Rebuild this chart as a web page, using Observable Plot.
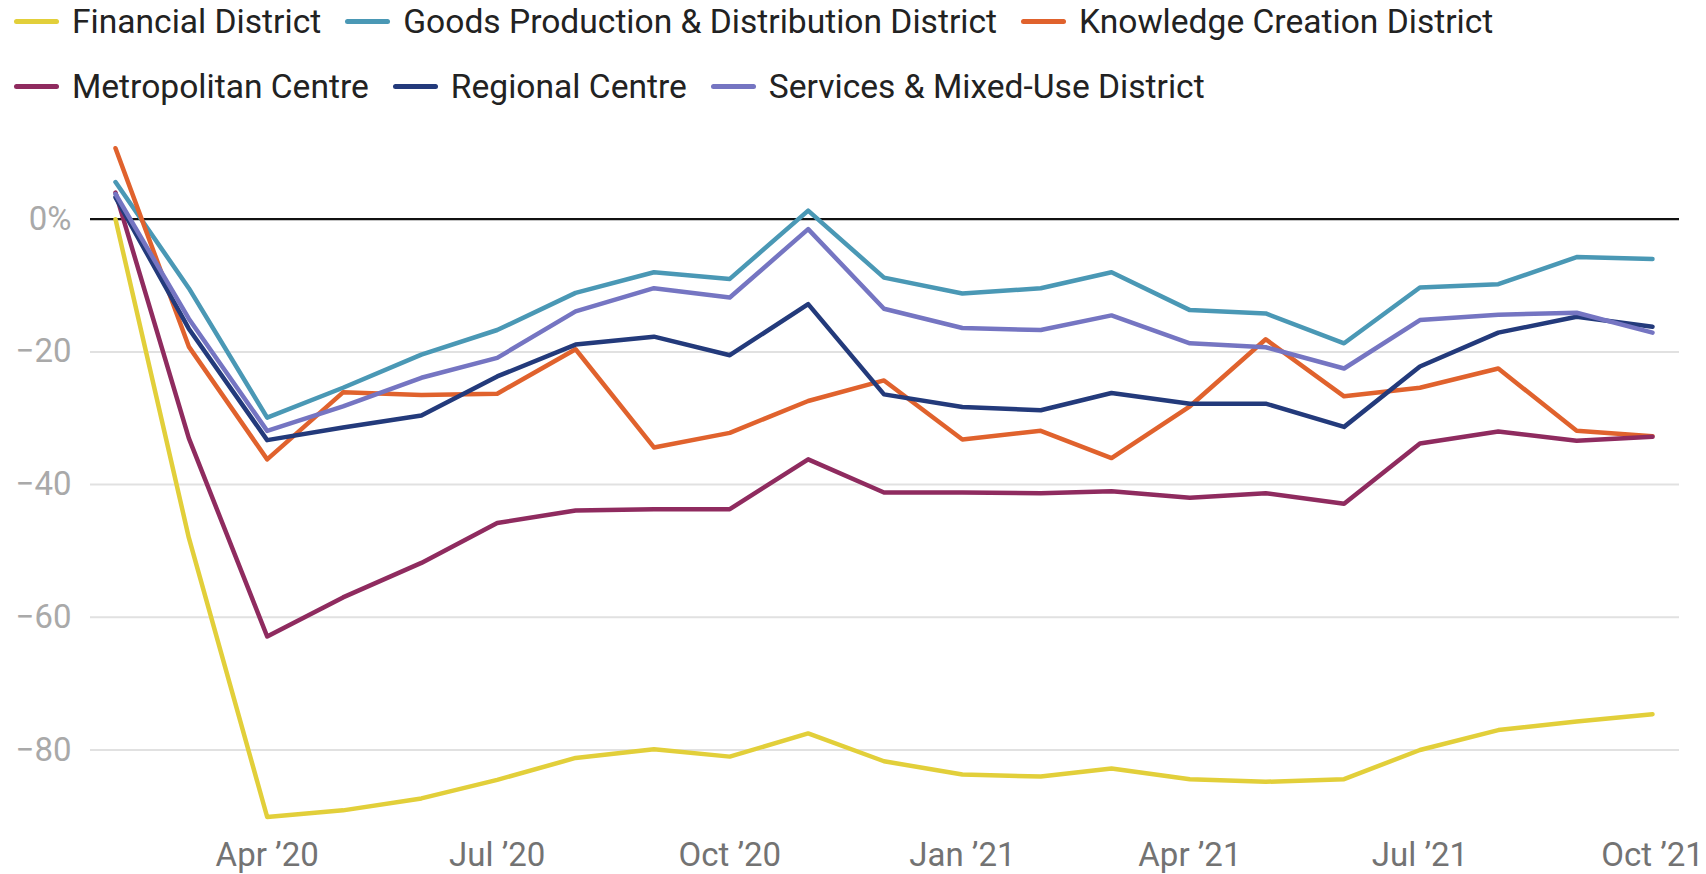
<!DOCTYPE html>
<html>
<head>
<meta charset="utf-8">
<script src="https://cdn.jsdelivr.net/npm/d3@7"></script>
<script src="https://cdn.jsdelivr.net/npm/@observablehq/plot@0.6"></script>
<style>
  body { margin: 0; background: #fff; font-family: Roboto, sans-serif; }
  #legend { position: relative; height: 110px; width: 1706px; }
  .row { position: absolute; left: 14px; height: 40px; display: flex; align-items: center; }
  .item { display: flex; align-items: center; margin-right: 24px; font-size: 33.6px; color: #222; white-space: nowrap; }
  .sw { width: 45px; height: 5px; border-radius: 3px; margin-right: 13px; }
  #chart svg g[aria-label^="x-axis"] text { fill: #737373; }
  #chart svg g[aria-label^="y-axis"] text { fill: #a9a9a9; }
</style>
</head>
<body>
<div id="legend"></div>
<div id="chart"></div>
<script>
const months = ["2020-02","2020-03","2020-04","2020-05","2020-06","2020-07","2020-08","2020-09","2020-10","2020-11","2020-12",
                "2021-01","2021-02","2021-03","2021-04","2021-05","2021-06","2021-07","2021-08","2021-09","2021-10"];

const seriesNames = ["Financial District","Goods Production & Distribution District","Knowledge Creation District",
                     "Metropolitan Centre","Regional Centre","Services & Mixed-Use District"];
const seriesColors = ["#e2cf3a","#4a98b5","#e0622d","#8f2b5f","#233a7b","#7575c2"];

const financial = [0, -48, -90.1, -89.1, -87.3, -84.5, -81.2, -79.9, -81, -77.5, -81.7, -83.7, -84, -82.8, -84.4, -84.8, -84.4, -80, -77, -75.7, -74.6];
const goods     = [5.6, -10.4, -29.9, -25.4, -20.4, -16.7, -11.1, -8, -9, 1.3, -8.8, -11.2, -10.4, -8, -13.7, -14.2, -18.7, -10.3, -9.8, -5.7, -6];
const knowledge = [10.7, -19.2, -36.2, -26.1, -26.5, -26.3, -19.6, -34.4, -32.2, -27.4, -24.3, -33.2, -31.9, -36, -28.2, -18.1, -26.7, -25.4, -22.5, -31.9, -32.7];
const metro     = [4, -33, -62.9, -57, -51.8, -45.8, -43.9, -43.7, -43.7, -36.2, -41.2, -41.2, -41.3, -41, -42, -41.3, -42.9, -33.8, -32, -33.4, -32.8];
const regional  = [3.3, -16.5, -33.3, -31.4, -29.6, -23.7, -18.9, -17.7, -20.5, -12.8, -26.4, -28.3, -28.8, -26.2, -27.8, -27.8, -31.3, -22.2, -17.1, -14.7, -16.2];
const services  = [3.8, -15, -31.9, -28.2, -23.9, -20.9, -13.9, -10.4, -11.8, -1.5, -13.5, -16.4, -16.7, -14.5, -18.7, -19.3, -22.5, -15.2, -14.4, -14.1, -17.1];

const tickMonths = ["2020-04","2020-07","2020-10","2021-01","2021-04","2021-07","2021-10"];
const tickLabels = ["Apr ’20","Jul ’20","Oct ’20","Jan ’21","Apr ’21","Jul ’21","Oct ’21"];
const yTicks = [0, -20, -40, -60, -80];
const yTickLabels = ["0%", "\u221220", "\u221240", "\u221260", "\u221280"];

const parse = d3.utcParse("%Y-%m");
const allSeries = [financial, goods, knowledge, metro, regional, services];
const data = [];
allSeries.forEach((vals, si) => {
  vals.forEach((v, i) => data.push({date: parse(months[i]), value: v, series: seriesNames[si]}));
});

// Legend
const legend = document.getElementById("legend");
const rows = [[0,1,2],[3,4,5]];
const rowTops = [1, 66];
rows.forEach((idxs, r) => {
  const row = document.createElement("div");
  row.className = "row";
  row.style.top = rowTops[r] + "px";
  idxs.forEach(i => {
    const it = document.createElement("div");
    it.className = "item";
    const sw = document.createElement("span");
    sw.className = "sw";
    sw.style.background = seriesColors[i];
    it.appendChild(sw);
    it.appendChild(document.createTextNode(seriesNames[i]));
    row.appendChild(it);
  });
  legend.appendChild(row);
});

const tickDates = tickMonths.map(parse);
const tickMap = new Map(tickDates.map((d, i) => [+d, tickLabels[i]]));
const yMap = new Map(yTicks.map((d, i) => [d, yTickLabels[i]]));

const chart = Plot.plot({
  width: 1706,
  height: 764,
  marginLeft: 90,
  marginRight: 27,
  marginTop: 20,
  marginBottom: 38,
  style: {fontFamily: "Roboto, sans-serif", fontSize: "33px", background: "#fff", overflow: "visible"},
  x: {
    type: "utc",
    domain: [parse(months[0]), parse(months[months.length - 1])],
    insetLeft: 25,
    insetRight: 27,
    ticks: tickDates,
    tickFormat: d => tickMap.get(+d),
    tickSize: 0,
    tickPadding: 6,
    label: null
  },
  y: {
    domain: [-93.04, 13.37],
    ticks: yTicks,
    tickFormat: d => yMap.get(d),
    tickSize: 0,
    tickPadding: 19,
    label: null
  },
  color: {domain: seriesNames, range: seriesColors},
  marks: [
    Plot.ruleY([-20, -40, -60, -80], {stroke: "#e1e1e1", strokeWidth: 2}),
    Plot.ruleY([0], {stroke: "#111", strokeWidth: 2.2}),
    Plot.line(data, {x: "date", y: "value", z: "series", stroke: "series", strokeWidth: 4.5,
                     strokeLinejoin: "round", strokeLinecap: "round"})
  ]
});
document.getElementById("chart").appendChild(chart);
</script>
</body>
</html>
